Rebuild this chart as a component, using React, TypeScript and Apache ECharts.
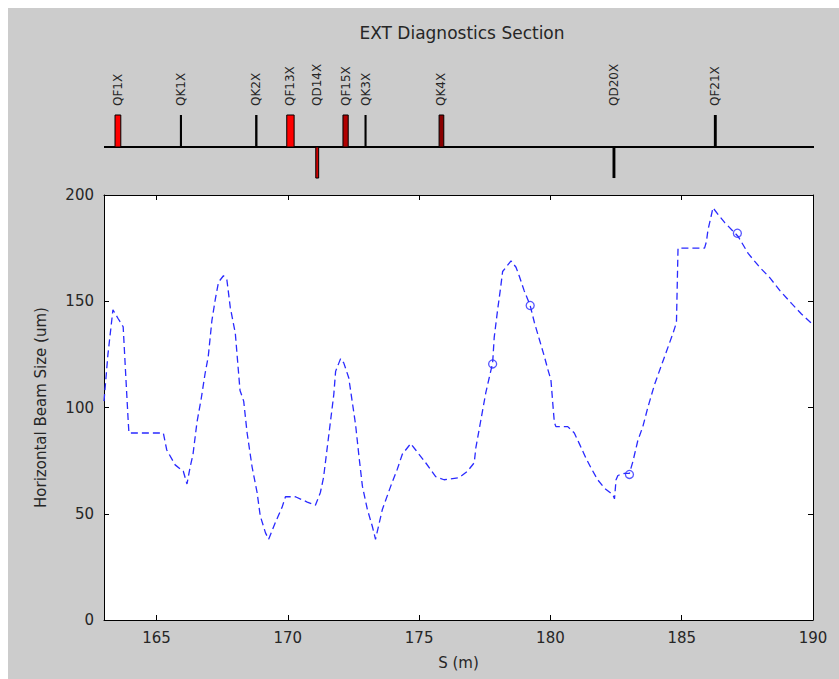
import React, { useEffect, useRef } from "react";
import * as echarts from "echarts";

const titleText = "EXT Diagnostics Section";
const xAxisName = "S (m)";
const yAxisName = "Horizontal Beam Size (um)";
const xTicks = [165, 170, 175, 180, 185, 190];
const yTicks = [0, 50, 100, 150, 200];

const beamS = [
  163.0, 163.15, 163.34, 163.53, 163.73, 163.85, 163.92, 163.95, 165.26, 165.39,
  165.71, 166.02, 166.16, 166.28, 166.39, 166.54, 166.7, 166.85, 166.97, 167.11,
  167.24, 167.36, 167.55, 167.68, 167.81, 168.0, 168.18, 168.32, 168.45, 168.64,
  168.83, 168.95, 169.15, 169.27, 169.53, 169.78, 169.91, 170.29, 170.74, 171.05,
  171.24, 171.36, 171.5, 171.63, 171.75, 171.82, 172.01, 172.13, 172.32, 172.45,
  172.58, 172.71, 172.84, 173.03, 173.22, 173.34, 173.6, 173.92, 174.17, 174.36,
  174.68, 174.87, 175.25, 175.63, 175.95, 176.52, 176.84, 177.1, 177.16, 177.35,
  177.54, 177.67, 177.8, 177.86, 177.99, 178.11, 178.18, 178.31, 178.5, 178.69,
  178.81, 179.0, 179.23, 179.39, 179.58, 179.77, 179.9, 180.02, 180.09, 180.15,
  180.21, 180.66, 180.91, 181.1, 181.36, 181.55, 181.8, 182.06, 182.38, 182.44,
  182.5, 182.57, 182.82, 183.01, 183.14, 183.33, 183.52, 183.71, 183.97, 184.35,
  184.67, 184.8, 184.86, 185.87, 185.94, 186.0, 186.12, 186.19, 186.44, 186.64,
  187.15, 187.53, 187.97, 188.36, 188.74, 189.18, 189.56, 190.0,
];
const beamSize = [
  103, 125, 146, 142, 138, 110, 94, 88, 88, 80,
  73, 70, 64, 72, 78, 93, 104, 116, 124, 141,
  151, 159, 162, 160, 147, 135, 108, 103, 88, 72,
  60, 49, 41, 38, 46, 53, 58, 58, 55.5, 54,
  60, 67, 81, 94, 106, 117, 123, 121, 114, 103,
  92, 77, 63, 52, 44, 38, 52, 63, 71, 78,
  83, 80, 74, 67.5, 66, 67, 70, 74, 81, 94,
  107, 114, 121, 133, 146, 157, 164, 166, 169, 166,
  162, 155, 148, 140, 132, 124, 118, 113, 102, 93,
  91, 91, 88, 83, 76, 71.5, 66, 62, 59, 57,
  66, 68, 69, 69, 74.5, 84.5, 91, 100, 111, 124,
  135, 140, 175, 175, 178, 183.5, 190, 194, 190, 187,
  180.5, 172.5, 166, 161, 155, 149, 144, 139,
];

const measS = [177.8, 179.23, 183.01, 187.12];
const measSize = [120.5, 148, 68.5, 182];

const magnetNames = ["QF1X", "QK1X", "QK2X", "QF13X", "QD14X", "QF15X", "QK3X", "QK4X", "QD20X", "QF21X"];
const magnetS = [163.53, 165.93, 168.8, 170.1, 171.12, 172.2, 172.96, 175.85, 182.42, 186.28];
const magnetLength = [0.22, 0.08, 0.09, 0.28, 0.11, 0.2, 0.08, 0.18, 0.11, 0.11];
const magnetSide = [1, 1, 1, 1, -1, 1, 1, 1, -1, 1];

const magnetFill: Record<string, string> = {
  QF1X: "#ff0000",
  QF13X: "#ff0000",
  QD14X: "#d00000",
  QF15X: "#b00000",
  QK4X: "#8a0000",
};

const FONT = '"DejaVu Sans", sans-serif';
const TEXT = "#262626";

export default function App() {
  const ref = useRef<HTMLDivElement>(null);

  useEffect(() => {
    if (!ref.current) return;
    const chart = echarts.init(ref.current, undefined, { renderer: "svg" });

    const mainLeft = 96;
    const mainRight = 26;

    const option: any = {
      animation: false,
      backgroundColor: "#cccccc",
      textStyle: { fontFamily: FONT },
      title: {
        text: titleText,
        left: 449,
        top: 11,
        textAlign: "center",
        textStyle: { fontFamily: FONT, fontSize: 17, fontWeight: "normal", color: TEXT },
      },
      grid: [
        { left: mainLeft, right: mainRight, top: 187, bottom: 59, backgroundColor: "#ffffff", show: true, borderWidth: 0 },
        { left: mainLeft, right: mainRight, top: 107, height: 64, show: false },
      ],
      xAxis: [
        {
          type: "value",
          gridIndex: 0,
          min: 163,
          max: 190,
          position: "bottom",
          name: xAxisName,
          nameLocation: "middle",
          nameGap: 35,
          nameTextStyle: { fontFamily: FONT, fontSize: 15, color: TEXT },
          axisLine: { show: true, onZero: false, lineStyle: { color: "#000", width: 1 } },
          axisTick: { show: true, inside: true, length: 5, customValues: xTicks, lineStyle: { color: "#000" } },
          axisLabel: { customValues: xTicks, margin: 10, fontFamily: FONT, fontSize: 15, color: TEXT },
          splitLine: { show: false },
        },
        {
          type: "value",
          gridIndex: 0,
          min: 163,
          max: 190,
          position: "top",
          axisLine: { show: true, onZero: false, lineStyle: { color: "#000", width: 1 } },
          axisTick: { show: true, inside: true, length: 5, customValues: xTicks, lineStyle: { color: "#000" } },
          axisLabel: { show: false },
          splitLine: { show: false },
        },
        {
          type: "value",
          gridIndex: 1,
          min: 163,
          max: 190,
          show: false,
        },
      ],
      yAxis: [
        {
          type: "value",
          gridIndex: 0,
          min: 0,
          max: 200,
          interval: 50,
          position: "left",
          name: yAxisName,
          nameLocation: "middle",
          nameGap: 56,
          nameTextStyle: { fontFamily: FONT, fontSize: 15, color: TEXT },
          axisLine: { show: true, onZero: false, lineStyle: { color: "#000", width: 1 } },
          axisTick: { show: true, inside: true, length: 5, lineStyle: { color: "#000" } },
          axisLabel: { customValues: yTicks, margin: 10, fontFamily: FONT, fontSize: 15, color: TEXT },
          splitLine: { show: false },
        },
        {
          type: "value",
          gridIndex: 0,
          min: 0,
          max: 200,
          interval: 50,
          position: "right",
          axisLine: { show: true, onZero: false, lineStyle: { color: "#000", width: 1 } },
          axisTick: { show: true, inside: true, length: 5, lineStyle: { color: "#000" } },
          axisLabel: { show: false },
          splitLine: { show: false },
        },
        {
          type: "value",
          gridIndex: 1,
          min: -1,
          max: 1,
          show: false,
        },
      ],
      series: [
        {
          type: "line",
          xAxisIndex: 2,
          yAxisIndex: 2,
          data: [
            [163, 0],
            [190.07, 0],
          ],
          showSymbol: false,
          lineStyle: { color: "#000", width: 2 },
          silent: true,
          z: 2,
        },
        {
          type: "custom",
          xAxisIndex: 2,
          yAxisIndex: 2,
          clip: false,
          z: 3,
          data: magnetS.map((s, i) => [s, magnetLength[i], magnetSide[i], i]),
          renderItem: (params: any, api: any) => {
            const s = api.value(0);
            const len = api.value(1);
            const side = api.value(2);
            const idx = api.value(3);
            const name = magnetNames[idx];
            const p0 = api.coord([s - len / 2, 0]);
            const p1 = api.coord([s + len / 2, side > 0 ? 1 : -0.97]);
            const w = Math.max(Math.abs(p1[0] - p0[0]), 2);
            const cx = (p0[0] + p1[0]) / 2;
            const y = Math.min(p0[1], p1[1]);
            const h = Math.abs(p1[1] - p0[1]);
            const fill = magnetFill[name] || "#000000";
            const pc = api.coord([s, 0]);
            return {
              type: "group",
              children: [
                {
                  type: "rect",
                  shape: { x: cx - w / 2, y, width: w, height: h },
                  style: {
                    fill,
                    stroke: fill === "#000000" ? null : "#000",
                    lineWidth: fill === "#000000" ? 0 : 1,
                  },
                },
                {
                  type: "text",
                  x: pc[0],
                  y: pc[1] - 41,
                  rotation: Math.PI / 2,
                  style: {
                    text: name,
                    fill: TEXT,
                    font: `12px ${FONT}`,
                    align: "left",
                    verticalAlign: "middle",
                  },
                },
              ],
            };
          },
        },
        {
          type: "line",
          xAxisIndex: 0,
          yAxisIndex: 0,
          data: beamS.map((s, i) => [s, beamSize[i]]),
          showSymbol: false,
          lineStyle: { color: "#2a2aff", width: 1.3, type: [7, 4] },
          z: 4,
        },
        {
          type: "scatter",
          xAxisIndex: 0,
          yAxisIndex: 0,
          data: measS.map((s, i) => [s, measSize[i]]),
          symbol: "circle",
          symbolSize: 8,
          itemStyle: { color: "transparent", borderColor: "#2a2aff", borderWidth: 1.3 },
          z: 5,
        },
      ],
    };

    chart.setOption(option);
    return () => {
      chart.dispose();
    };
  }, []);

  return (
    <div
      ref={ref}
      style={{ position: "fixed", left: 8, top: 8, width: 831, height: 671 }}
    />
  );
}
